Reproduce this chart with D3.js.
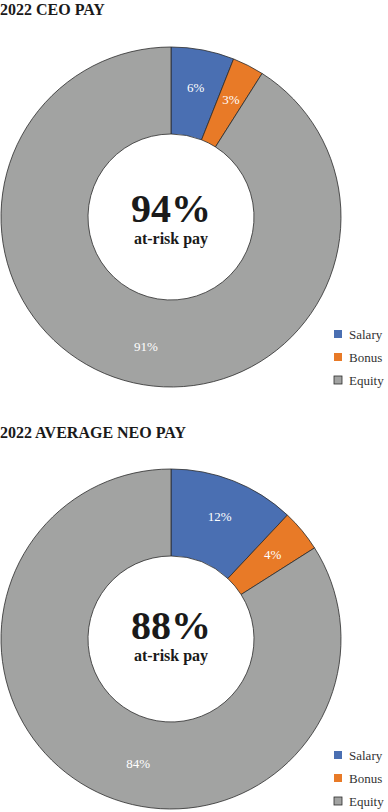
<!DOCTYPE html>
<html><head><meta charset="utf-8">
<script src="https://cdn.jsdelivr.net/npm/d3@7"></script>
<style>body{margin:0;background:#fff}svg{display:block}
svg text{font-family:"Liberation Serif","Times New Roman",serif;}</style>
</head><body>
<script>
const categories = ["Salary", "Bonus", "Equity"];
const ceoValues = [6, 3, 91];
const neoValues = [12, 4, 84];
const ceoLabels = ["6%", "3%", "91%"];
const neoLabels = ["12%", "4%", "84%"];
const titles = ["2022 CEO PAY", "2022 AVERAGE NEO PAY"];
const centerValues = ["94%", "88%"];
const centerSub = "at-risk pay";
const colors = ["#4a6fb2", "#e87a27", "#a2a3a2"];

const W = 388, H = 812;
const svg = d3.select("body").append("svg").attr("width", W).attr("height", H);
const color = d3.scaleOrdinal().domain(categories).range(colors);

// layout config (positions / styles only)
const charts = [
  {title: titles[0], values: ceoValues, labels: ceoLabels, center: centerValues[0],
   titleY: 15, cx: 171, cy: 217, legendY: 334, bigY: 5, subY: 27, eqLabelAngle: 190.9, eqLabelR: 132},
  {title: titles[1], values: neoValues, labels: neoLabels, center: centerValues[1],
   titleY: 438, cx: 171, cy: 639, legendY: 755, bigY: 0, subY: 22, eqLabelAngle: 194.8, eqLabelR: 129}
];
const rOuter = 170, rInner = 83, rLabel = 132;

charts.forEach(c => {
  svg.append("text").attr("x", 0).attr("y", c.titleY)
    .attr("font-weight", "bold").attr("font-size", 16)
    .attr("fill", "#1a1a1a").text(c.title);
  const g = svg.append("g").attr("transform", `translate(${c.cx},${c.cy})`);
  const data = categories.map((k, i) => ({key: k, value: c.values[i], label: c.labels[i]}));
  const pie = d3.pie().value(d => d.value).sort(null);
  const arcs = pie(data);
  const arc = d3.arc().innerRadius(rInner).outerRadius(rOuter);
  const labelArc = d3.arc().innerRadius(rLabel).outerRadius(rLabel);
  g.selectAll("path.s").data(arcs).join("path")
    .attr("d", arc).attr("fill", d => color(d.data.key))
    .attr("stroke", "#2b2b2b").attr("stroke-width", 0.8);
  const labelPos = (d, i) => {
    if (i === 2) {
      const a = c.eqLabelAngle * Math.PI / 180;
      return [c.eqLabelR * Math.sin(a), -c.eqLabelR * Math.cos(a)];
    }
    return labelArc.centroid(d);
  };
  g.selectAll("text.l").data(arcs).join("text")
    .attr("transform", (d, i) => `translate(${labelPos(d, i)})`)
    .attr("text-anchor", "middle").attr("dy", "0.35em")
    .attr("font-size", 13).attr("fill", "#fff")
    .text(d => d.data.label);
  g.append("text").attr("x", 0).attr("y", c.bigY).attr("text-anchor", "middle")
    .attr("font-weight", "bold").attr("font-size", 40)
    .attr("fill", "#1a1a1a").text(c.center);
  g.append("text").attr("x", 0).attr("y", c.subY).attr("text-anchor", "middle")
    .attr("font-weight", "bold").attr("font-size", 16)
    .attr("fill", "#1a1a1a").text(centerSub);

  const lg = svg.append("g").attr("transform", `translate(334,${c.legendY})`);
  categories.forEach((k, i) => {
    const row = lg.append("g").attr("transform", `translate(0,${i * 23})`);
    row.append("rect").attr("x", 0).attr("y", -4).attr("width", 8).attr("height", 8)
      .attr("fill", color(k)).attr("stroke", i === 2 ? "#2b2b2b" : "none").attr("stroke-width", 0.8);
    row.append("text").attr("x", 15).attr("y", 0).attr("dy", "0.35em")
      .attr("font-size", 13).attr("fill", "#333").text(k);
  });
});
</script>
</body></html>
